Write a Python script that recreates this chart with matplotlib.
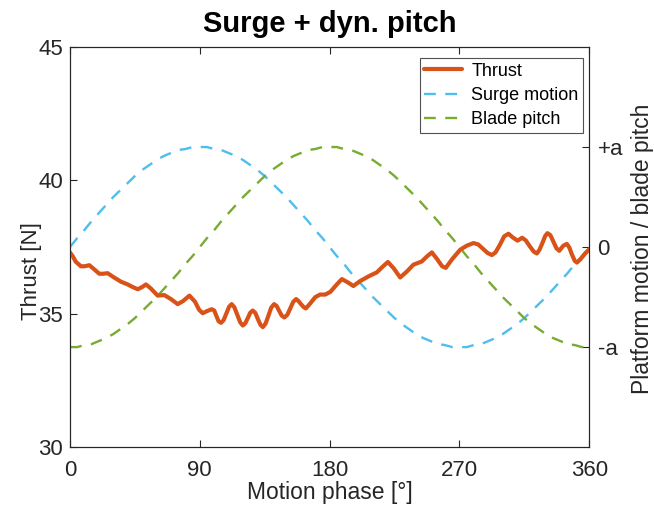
import matplotlib
matplotlib.use("Agg")
import matplotlib.pyplot as plt

plt.rcParams["font.family"] = ["Liberation Sans", "DejaVu Sans"]

# Thrust [N] vs motion phase [deg]
thrust_phase = [0, 2, 4, 7.6, 10, 13.4, 16.5, 20.3, 23, 26.1, 30, 35.4, 40, 43.5, 47, 50,
                52.7, 56, 60.8, 65.4, 70, 74.7, 78.5, 82.8, 86.7, 89.5, 92, 95, 98.3,
                100, 103, 104.7, 106.5, 108.4, 110.3, 112.1, 114, 116, 118, 119.8,
                121.5, 123.3, 125, 126.7, 128.5, 130.2, 132, 133.7, 135.6, 137.6, 139.5,
                141.5, 143.3, 145, 146.8, 148.6, 150.7, 152.7, 154.8, 156.8, 158.5, 160,
                162, 163.5, 166, 170, 173.4, 177,
                180.5, 185, 188.5, 192.5, 196.5, 201, 206.9, 212.7, 216.5, 220.4, 224.5,
                228.9, 233.5, 238.1, 243.9, 247.5, 250.9, 254.5, 258, 260.5, 265, 270.5,
                275, 279.7, 283, 286, 289.5, 292.5, 295, 298, 301, 304, 307, 310.3, 313.5,
                316, 318.5, 321.5, 323.7, 325.5, 327.5, 329.5, 331, 333, 335, 337.3,
                339.2, 342, 344.5, 346.2, 348, 350, 351.5, 354, 357, 360]
thrust = [37.30, 37.15, 36.95, 36.78, 36.78, 36.82, 36.68, 36.50, 36.50, 36.52, 36.38,
          36.20, 36.10, 36.00, 35.92, 36.00, 36.10, 35.95, 35.68, 35.70, 35.55, 35.36,
          35.48, 35.68, 35.45, 35.15, 35.02, 35.10, 35.17,
          35.12, 34.72, 34.66, 34.76, 35.01, 35.26, 35.36, 35.24, 34.96, 34.68, 34.56,
          34.64, 34.84, 35.04, 35.12, 35.03, 34.81, 34.59, 34.50, 34.63, 34.93, 35.23,
          35.36, 35.29, 35.11, 34.93, 34.86, 34.96, 35.20, 35.45, 35.55, 35.47, 35.37,
          35.25, 35.20, 35.35, 35.62, 35.72, 35.72,
          35.82, 36.10, 36.30, 36.18, 36.04, 36.22, 36.40, 36.55, 36.75, 36.94, 36.70,
          36.36, 36.58, 36.84, 36.96, 37.15, 37.30, 37.05, 36.78, 36.72, 37.05, 37.40,
          37.55, 37.65, 37.60, 37.45, 37.28, 37.20, 37.30, 37.58, 37.90, 38.00, 37.86,
          37.74, 37.85, 37.75, 37.55, 37.33, 37.26, 37.40, 37.65, 37.92, 38.02, 37.95,
          37.72, 37.45, 37.36, 37.55, 37.62, 37.48, 37.22, 36.98, 36.92, 37.05, 37.25,
          37.42]

# Normalised motion signals (units of a), every 5 deg
motion_phase = list(range(0, 361, 5))
surge = [0, 0.09, 0.17, 0.26, 0.34, 0.42, 0.5, 0.57, 0.64, 0.71, 0.77, 0.82, 0.87, 0.91,
         0.94, 0.97, 0.98, 1.0, 1.0, 1.0, 0.98, 0.97, 0.94, 0.91, 0.87, 0.82, 0.77, 0.71,
         0.64, 0.57, 0.5, 0.42, 0.34, 0.26, 0.17, 0.09, 0,
         -0.09, -0.17, -0.26, -0.34, -0.42, -0.5, -0.57, -0.64, -0.71, -0.77, -0.82,
         -0.87, -0.91, -0.94, -0.97, -0.98, -1.0, -1.0, -1.0, -0.98, -0.97, -0.94, -0.91,
         -0.87, -0.82, -0.77, -0.71, -0.64, -0.57, -0.5, -0.42, -0.34, -0.26, -0.17,
         -0.09, 0]
pitch = [-1.0, -1.0, -0.98, -0.97, -0.94, -0.91, -0.87, -0.82, -0.77, -0.71, -0.64,
         -0.57, -0.5, -0.42, -0.34, -0.26, -0.17, -0.09, 0, 0.09, 0.17, 0.26, 0.34,
         0.42, 0.5, 0.57, 0.64, 0.71, 0.77, 0.82, 0.87, 0.91, 0.94, 0.97, 0.98, 1.0,
         1.0, 1.0, 0.98, 0.97, 0.94, 0.91, 0.87, 0.82, 0.77, 0.71, 0.64, 0.57, 0.5,
         0.42, 0.34, 0.26, 0.17, 0.09, 0, -0.09, -0.17, -0.26, -0.34, -0.42, -0.5,
         -0.57, -0.64, -0.71, -0.77, -0.82, -0.87, -0.91, -0.94, -0.97, -0.98, -1.0,
         -1.0]

x_ticks = [0, 90, 180, 270, 360]
y_ticks = [30, 35, 40, 45]
right_ticks = [-1, 0, 1]
right_labels = ["-a", "0", "+a"]

c_thrust = "#D95319"
c_surge = "#4DBEEE"
c_pitch = "#77AC30"
c_axis = "#262626"

fig = plt.figure(figsize=(6.54, 5.11), dpi=100)
ax = fig.add_axes([0.107, 0.125, 0.794, 0.783])
ax2 = ax.twinx()

# thrust on top of the dashed motion curves
ax.set_zorder(2)
ax.patch.set_visible(False)

lt, = ax.plot(thrust_phase, thrust, color=c_thrust, lw=3.0, label="Thrust",
              solid_joinstyle="round", solid_capstyle="round")
ls, = ax2.plot(motion_phase, surge, color=c_surge, lw=1.7, ls=(0, (5, 4)),
               label="Surge motion")
lp, = ax2.plot(motion_phase, pitch, color=c_pitch, lw=1.7, ls=(0, (5, 4)),
               label="Blade pitch")

ax.set_xlim(0, 360)
ax.set_ylim(30, 45)
ax2.set_ylim(-2, 2)
ax.set_xticks(x_ticks)
ax.set_yticks(y_ticks)
ax2.set_yticks(right_ticks)
ax2.set_yticklabels(right_labels)

for a in (ax, ax2):
    a.tick_params(direction="in", length=5, width=0.8, labelsize=16, colors=c_axis,
                  pad=6)
    for s in a.spines.values():
        s.set_color(c_axis)
        s.set_linewidth(0.8)
ax.tick_params(top=True)
ax.tick_params(axis="x", pad=9)
ax.tick_params(axis="y", pad=5)

ax.set_xlabel("Motion phase [°]", fontsize=16.5, color=c_axis, labelpad=0)
ax.set_ylabel("Thrust [N]", fontsize=16, color=c_axis)
ax.yaxis.set_label_coords(-0.054, 0.44)
ax2.set_ylabel("Platform motion / blade pitch", fontsize=16.5, color=c_axis)
ax2.yaxis.set_label_coords(1.08, 0.495)
ax.set_title("Surge + dyn. pitch", fontsize=21, fontweight="bold", pad=11)

leg = ax.legend(handles=[lt, ls, lp], loc="upper right",
                bbox_to_anchor=(0.988, 0.972), borderaxespad=0, fontsize=13,
                frameon=True, fancybox=False, edgecolor=c_axis,
                handlelength=2.1, labelspacing=0.4,
                borderpad=0.25, handletextpad=0.5)
leg.get_frame().set_linewidth(0.8)

fig.savefig("out.png", dpi=100)
plt.close(fig)
